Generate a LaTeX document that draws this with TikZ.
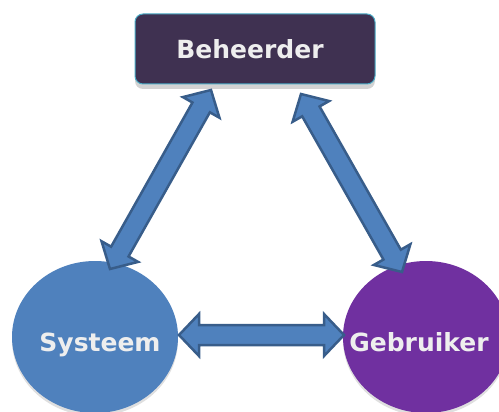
\documentclass[tikz,border=0pt]{standalone}
\usepackage{fontspec}
\setmainfont{DejaVu Sans}
\usetikzlibrary{calc,shadows,shapes.geometric}
\definecolor{beheer}{HTML}{3F3151}
\definecolor{rand}{HTML}{4BACC6}
\definecolor{blauw}{HTML}{4F81BD}
\definecolor{donkerblauw}{HTML}{385D8A}
\definecolor{paars}{HTML}{7030A0}
\definecolor{tekst}{HTML}{EEEEEE}
\tikzset{
  naam/.style={text=tekst, anchor=base, inner sep=0pt, font=\bfseries\fontsize{25}{29}\selectfont},
  bol/.style={ellipse, minimum width=166pt, minimum height=152pt, draw=none,
    drop shadow={shadow xshift=0pt, shadow yshift=-3pt, opacity=0.25}},
  pijl/.style={fill=blauw, draw=donkerblauw, line width=2.5pt, line join=miter}
}
% double arrow between two named points: half head 21, half shaft 10, head 20
\newcommand{\dubbelpijl}[2]{%
  \draw[pijl] (#1)
    -- ($(#1)!20pt!(#2)!21pt!90:(#2)$) -- ($(#1)!20pt!(#2)!10pt!90:(#2)$)
    -- ($(#2)!20pt!(#1)!10pt!-90:(#1)$) -- ($(#2)!20pt!(#1)!21pt!-90:(#1)$)
    -- (#2)
    -- ($(#2)!20pt!(#1)!21pt!90:(#1)$) -- ($(#2)!20pt!(#1)!10pt!90:(#1)$)
    -- ($(#1)!20pt!(#2)!10pt!-90:(#2)$) -- ($(#1)!20pt!(#2)!21pt!-90:(#2)$)
    -- cycle;}
\begin{document}
\begin{tikzpicture}[x=1pt, y=-1pt]
\clip (0,0) rectangle (499,412);

\draw[fill=beheer, draw=rand, line width=1pt, rounded corners=8pt,
  drop shadow={shadow xshift=0pt, shadow yshift=-5pt, opacity=0.35}]
  (135,14) rectangle (375,84);
\node[naam] (beheerder) at (250,59) {Beheerder};

\node[bol, fill=blauw] (sys) at (95,337) {};
\node[bol, fill=paars] (geb) at (426,337) {};
\node[naam] (systeem) at (100,351) {Systeem};
\node[naam] (gebruiker) at (419,351) {Gebruiker};

\coordinate (bl) at (211,90);
\coordinate (br) at (301,94);
\coordinate (sl) at (110,269);
\coordinate (gr) at (402,272);
\coordinate (sr) at (179,335);
\coordinate (gl) at (344,335);

\dubbelpijl{bl}{sl}
\dubbelpijl{br}{gr}
\dubbelpijl{sr}{gl}
\end{tikzpicture}
\end{document}
